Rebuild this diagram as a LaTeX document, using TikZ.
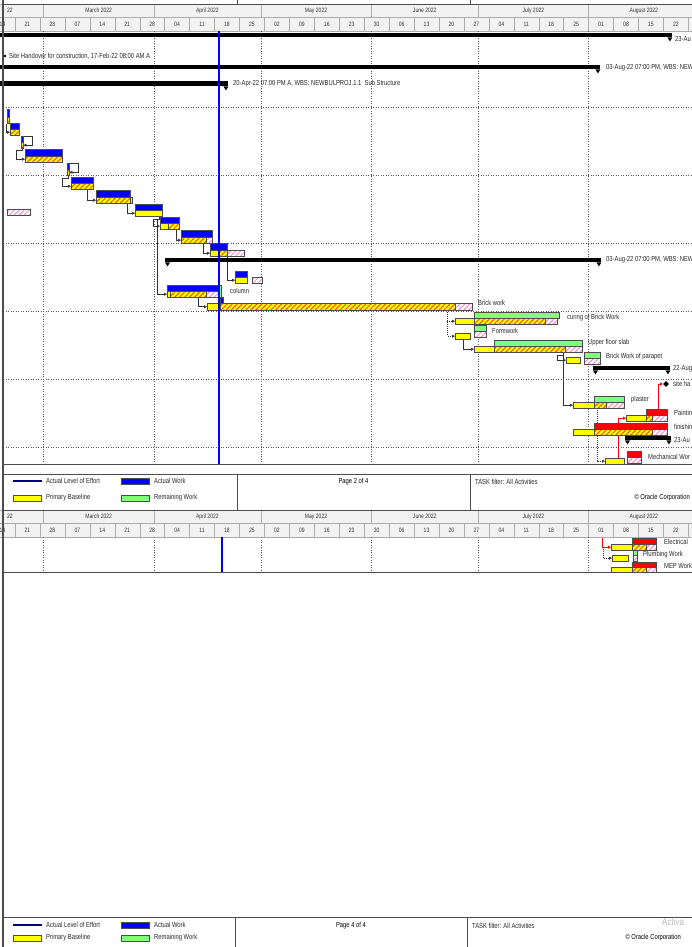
\documentclass[tikz,border=0pt]{standalone}
\usepackage{fontspec}
\newfontfamily\ganttfont{Liberation Sans}[FakeStretch=0.8]
\usetikzlibrary{arrows.meta,patterns.meta,shapes.geometric}
\pgfdeclarelayer{background}
\pgfsetlayers{background,main}
\definecolor{ganttblue}{RGB}{0,0,255}
\definecolor{ganttnavy}{RGB}{0,0,128}
\definecolor{ganttyellow}{RGB}{255,255,0}
\definecolor{ganttgreen}{RGB}{128,255,128}
\definecolor{ganttred}{RGB}{255,0,0}
\definecolor{gantthatch}{RGB}{240,80,0}
\definecolor{ganttpink}{RGB}{255,120,190}
\definecolor{gantthead}{RGB}{242,242,242}

\begin{document}
\begin{tikzpicture}[x=1pt,y=-1pt,
  every node/.style={inner sep=0pt, font=\ganttfont\fontsize{7.3}{8}\selectfont},
  bar/.style={draw=gray!60!black, line width=0.4pt, anchor=north west},
  actual/.style={bar, fill=ganttblue},
  base/.style={bar, fill=ganttyellow},
  hatch/.style={bar, preaction={fill=ganttyellow}, pattern={Lines[angle=45,distance=3.5pt,line width=1pt]}, pattern color=gantthatch},
  pinkbar/.style={bar, preaction={fill=white}, pattern={Lines[angle=45,distance=3.5pt,line width=0.8pt]}, pattern color=ganttpink},
  remain/.style={bar, fill=ganttgreen},
  crit/.style={bar, fill=ganttred},
  summ/.style={fill=black, anchor=north west},
  ms/.style={diamond, fill=black, minimum size=#1},
  lab/.style={anchor=west, text=black!85},
  hdr/.style={draw=gray!65, line width=0.4pt, fill=gantthead},
  hdrtext/.style={font=\ganttfont\fontsize{6.3}{7}\selectfont, text=black!80},
  frame/.style={draw=gray!60!black, line width=0.6pt},
  gridline/.style={draw=gray!70!black, line width=0.5pt, dash pattern=on 1pt off 1.5pt},
  link/.style={draw=black!80, line width=0.5pt, -{Triangle[length=3pt,width=3pt]}},
  dlink/.style={link, dash pattern=on 1pt off 1pt},
  rlink/.style={link, draw=ganttred, line width=0.9pt}]
\clip (0,0) rectangle (692,947);
\pgfmathsetmacro{\W}{24.94}

% timescale of page 2 and page 4
\foreach \yo in {0,506} {
  \draw[hdr] (-56.3,4+\yo) rectangle (43.5,17+\yo);
  \node[hdrtext, anchor=east] (moFeb\yo) at (13,10.5+\yo) {22};
  \foreach \xa/\xb/\m in {43.5/153.9/March, 153.9/260.8/April, 260.8/371.3/May, 371.3/478.2/June, 478.2/588.6/July, 588.6/699.1/August} {
    \draw[hdr] (\xa,4+\yo) rectangle (\xb,17+\yo);
    \node[hdrtext] (mo\m\yo) at ({(\xa+\xb)/2},10.5+\yo) {\m\ 2022};
  }
  \foreach \d [count=\k] in {14,21,28,07,14,21,28,04,11,18,25,02,09,16,23,30,06,13,20,27,04,11,18,25,01,08,15,22} {
    \pgfmathsetmacro{\xa}{39.94+(\k-3)*\W}
    \draw[hdr] (\xa,17+\yo) rectangle ({\xa+\W},31+\yo);
    \node[hdrtext] (wk\k n\yo) at ({\xa+\W/2},24+\yo) {\d};
  }
  \draw[hdr] (688.4,17+\yo) rectangle (700,31+\yo);
}
\draw[frame] (237,0) -- (237,4) (470,0) -- (470,4);

% grid
\foreach \x in {43.5,153.9,260.8,371.3,478.2,588.6} {
  \draw[gridline] (\x,31) -- (\x,464);
  \draw[gridline] (\x,537) -- (\x,572);
}
\foreach \y in {107,175,243,311,379,447}
  \draw[gridline] (3,\y) -- (692,\y);

% summary bars
\foreach \nm/\xa/\ya/\xb/\yb in {s0/0/33/672/37, s1/0/65/600/69, s2/0/81/228/86, s12/165/258/601/262, s20/593/366/670/370, s25/625/436/671/440} {
  \node[summ, minimum width=\xb-\xa, minimum height=\yb-\ya] (\nm) at (\xa,\ya) {};
  \fill (\nm.south east) -- ++(-5,0) -- ++(2.5,4) -- cycle;
}
\foreach \nm in {s12,s20,s25}
  \fill (\nm.south west) -- ++(5,0) -- ++(-2.5,4) -- cycle;
\node[ms=3] (m0) at (5,56) {};
\node[ms=6] (m21) at (666,384) {};

% activity bars
\foreach \nm/\st/\xa/\ya/\xb/\yb in {
  a1/actual/6.5/109/8.5/117, b1/hatch/6.5/117/8.5/123,
  a2/actual/10/123/19/129, b2/hatch/10/129/19/135,
  a3/actual/21/136/23/142, b3/hatch/21/142/23/148,
  a4/actual/25/149/62/156, b4/hatch/25/156/62/162,
  a5/actual/67/163/69/169, b5/hatch/67/169/69/175,
  a6/actual/71/177/93/183, b6/hatch/71/183/93/189,
  a7/actual/96/190/130/197, b7/hatch/96/197/130/203, g7/remain/130/197/132/203,
  a8/actual/135/204/162/210, b8/base/135/210/162/216, p8/pinkbar/7/209/30/215,
  a9/actual/160/217/179/223, b9/base/160/223/168/229, h9/hatch/168/223/179/229,
  a10/actual/181/230/212/237, b10/hatch/181/237/206/243, p10/pinkbar/206/237/212/243,
  a11/actual/210/243/227/250, b11/base/210/250/218/256, h11/hatch/218/250/227/256, p11/pinkbar/227/250/244/256,
  a13/actual/235/271/247/277, b13/base/235/277/247/283, p13/pinkbar/252/277/262/283,
  a14/actual/167/285/220/291, b14/base/167/291/170/297, h14/hatch/170/291/206/297, p14/pinkbar/206/291/220/297, g14/remain/219/285/221/297,
  a15/actual/220/297/223/303, b15/base/207/303/220/310, h15/hatch/220/303/455/310, p15/pinkbar/455/303/472/310,
  a16/remain/474/312/559/318, b16/base/455/318/474/324, h16/hatch/474/318/545/324, p16/pinkbar/545/318/557/324,
  a17/remain/474/325/486/331, p17/pinkbar/474/331/486/337, b17/base/455/333/470/339,
  a18/remain/494/340/582/346, b18/base/474/346/494/352, h18/hatch/494/346/565/352, p18/pinkbar/565/346/582/352,
  a19/remain/584/352/600/358, p19/pinkbar/584/358/600/364, b19/base/566/357/580/363,
  a22/remain/594/396/624/402, b22/base/573/402/594/408, h22/hatch/594/402/606/408, p22/pinkbar/606/402/624/408,
  a23/crit/646/409/667/415, b23/base/626/415/646/421, h23/hatch/646/415/652/421, p23/pinkbar/652/415/667/421,
  a24/crit/594/423/667/429, b24/base/573/429/594/435, h24/hatch/594/429/652/435, p24/pinkbar/652/429/667/435,
  a26/crit/627/451/641/457, p26/pinkbar/627/457/641/463, b26/base/605/458/624/464,
  a27/crit/632/538/656/544, b27/base/611/544/632/550, h27/hatch/632/544/646/550, p27/pinkbar/646/544/656/550,
  a28/remain/633/550/637/555, p28/pinkbar/633/555/637/561, b28/base/612/555/628/561,
  a29/crit/632/562/656/567, b29/base/611/567/632/572, h29/hatch/632/567/646/572, p29/pinkbar/646/567/656/572}
  \node[\st, minimum width=\xb-\xa, minimum height=\yb-\ya] (\nm) at (\xa,\ya) {};

% labels
\node[lab] (t0) at (675,39) {23-Au};
\node[lab] (tm0) at (9,56) {Site Handover for construction, 17-Feb-22 08:00 AM A};
\node[lab] (t1) at (606,68) {03-Aug-22 07:00 PM, WBS: NEW};
\node[lab] (t2) at (233,84) {20-Apr-22 07:00 PM A, WBS: NEWBULPROJ.1.1\ \ Sub Structure};
\node[lab] (t12) at (606,260) {03-Aug-22 07:00 PM, WBS: NEW};
\node[lab] (t13) at (230,291) {column};
\node[lab] (t15) at (478,303) {Brick work};
\node[lab] (t16) at (567,318) {curing of Brick Work};
\node[lab] (t17) at (492,331) {Formwork};
\node[lab] (t18) at (588,343) {Upper floor slab};
\node[lab] (t19) at (606,357) {Brick Work of parapet};
\node[lab] (t20) at (673,369) {22-Aug};
\node[lab] (t21) at (673,384) {site ha};
\node[lab] (t22) at (631,400) {plaster};
\node[lab] (t23) at (674,413) {Paintin};
\node[lab] (t24) at (674,427) {finishin};
\node[lab] (t25) at (674,440) {23-Au};
\node[lab] (t26) at (648,457) {Mechanical Wor};
\node[lab] (t27) at (664,542) {Electrical};
\node[lab] (t28) at (643,555) {Plumbing Work};
\node[lab] (t29) at (664,566) {MEP Work};

% relationships
\coordinate (e0) at (602,538);
\coordinate (e1) at (603,547);
\begin{pgfonlayer}{background}
\draw[link] (b1.south west) |- (b2.west);
\draw[link] (a3.north east) -- ++(9,0) |- (b3.east);
\draw[link] (b3.south) |- ++(-6,2) |- (b4.west);
\draw[link] (a5.north east) -- ++(9,0) |- (b5.east);
\draw[link] (b5.south) |- ++(-6,3) |- (b6.west);
\draw[link] ([xshift=-6pt]b6.south east) |- (b7.west);
\draw[link] ([xshift=-3pt]b7.south east) |- (b8.west);
\draw[link] ([xshift=-3pt]b8.south east) |- ++(-6,3) |- (b9.west);
\draw[link] ([xshift=-3pt]b8.south east) |- ++(-2,3) |- (b14.west);
\draw[link] ([xshift=-3pt]h9.south east) |- (b10.west);
\draw[link] ([xshift=-3pt]b10.south east) |- (b11.west);
\draw[link] (h11.south east) |- (b13.west);
\draw[link] ([xshift=-8pt]h14.south east) |- (b15.west);
\draw[dlink] ([xshift=-8pt]h15.south east) |- (b16.west);
\draw[dlink] ([xshift=-8pt]h15.south east) |- (b17.west);
\draw[link] ([xshift=-7pt]b17.south east) |- (b18.west);
\draw[link] ([xshift=-2pt]h18.south east) |- ++(-6,3) |- (b19.west);
\draw[link] ([xshift=-2pt]h18.south east) |- (b22.west);
\draw[dlink] ([xshift=3pt]h22.south west) |- (b26.west);
\draw[rlink] ([xshift=-6pt]b26.north east) |- (b23.west);
\draw[rlink] ([xshift=2pt]a23.north) |- (m21.west);
\draw[rlink] (e0) |- (b27.west);
\draw[dlink] (e1) |- (b28.west);
\end{pgfonlayer}

% data date
\draw[ganttblue, line width=1.2pt] (219,31) -- (219,464) (222,537) -- (222,572);

% frame
\draw[frame, line width=1.2pt] (3,0) -- (3,947);
\draw[frame] (3,4) -- (692,4) (3,464) -- (692,464) (3,572) -- (692,572);

% legends
\foreach \yo/\ya/\yb/\ye/\pg/\da/\db/\oc in {474/481/498/510/2/237/470/690, 917/925/938/947/4/235/467/681} {
  \draw[frame] (3,\yo) rectangle (692,\ye);
  \draw[frame] (\da,\yo) -- (\da,\ye) (\db,\yo) -- (\db,\ye);
  \draw[ganttnavy, line width=2.5pt] (13,\ya) -- (42,\ya);
  \node[actual, minimum width=28, minimum height=6] (lgaw\pg) at (121,\ya-3) {};
  \node[base, minimum width=28, minimum height=6] (lgpb\pg) at (13,\yb-3) {};
  \node[remain, minimum width=28, minimum height=6] (lgrw\pg) at (121,\yb-3) {};
  \node[lab] (lgle\pg) at (46,\ya) {Actual Level of Effort};
  \node[lab] (lgawt\pg) at (154,\ya) {Actual Work};
  \node[lab] (lgpbt\pg) at (46,\yb) {Primary Baseline};
  \node[lab] (lgrwt\pg) at (154,\yb) {Remaining Work};
  \node (pg\pg) at ({(\da+\db)/2},\ya+1) {Page \pg\ of 4};
  \node[lab] (flt\pg) at (\db+5,\ya+1) {TASK filter: All Activities};
  \node[anchor=east] (orc\pg) at (\oc,\yb) {© Oracle Corporation};
}
\node[anchor=west, text=gray!55, font=\ganttfont\fontsize{10}{10}\selectfont] (wm) at (662,922) {Activa};
\end{tikzpicture}
\end{document}
